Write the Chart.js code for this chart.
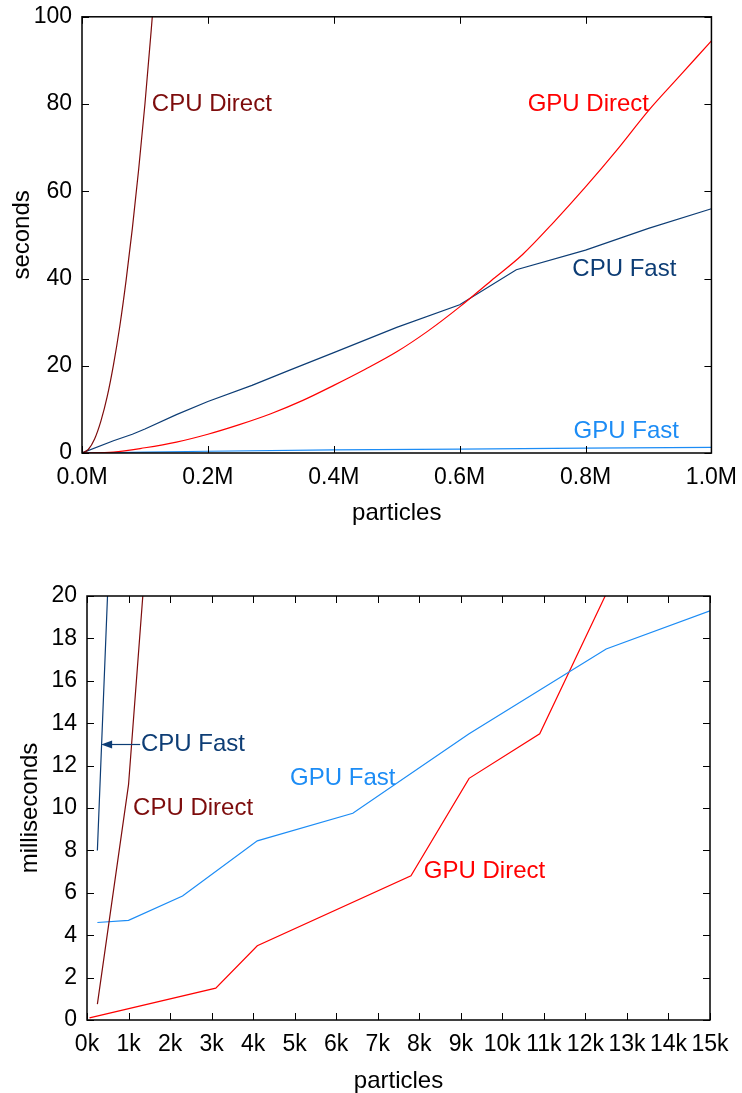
<!DOCTYPE html>
<html>
<head>
<meta charset="utf-8">
<script src="https://cdn.jsdelivr.net/npm/chart.js@4/dist/chart.umd.min.js"></script>
<style>
  html, body { margin: 0; padding: 0; background: #fff; overflow: hidden; }
  #wrapTop { position: absolute; left: 0; top: -7px; width: 748px; height: 547px; }
  #wrapBot { position: absolute; left: 0; top: 545px; width: 742px; height: 548px; }
</style>
</head>
<body>
<div id="wrapTop"><canvas id="chart-top"></canvas></div>
<div id="wrapBot"><canvas id="chart-bot"></canvas></div>
<script>
// cores
var corCpuDirect = "#7d0c0c";
var corGpuDirect = "#ff0000";
var corCpuFast = "#0d3d75";
var corGpuFast = "#1c8cf5";

// grafico de cima (segundos x milhoes de particulas)
var topCpuDirectX = [0, 10000, 20000, 30000, 40000, 50000, 60000, 70000, 80000, 90000, 100000, 110000, 120000];
var topCpuDirectY = [0, 0.8, 3.2, 7.3, 12.9, 20.2, 29, 39.5, 51.5, 65, 80, 97, 115];

var topGpuDirectX = [0, 50000, 100000, 150000, 200000, 250000, 300000, 350000, 400000, 450000, 500000,
   550000, 600000, 650000, 700000, 750000, 800000, 850000, 900000, 950000, 1000000];
var topGpuDirectY = [0, 0.2, 1.2, 2.5, 4.3, 6.5, 9, 12, 15.5, 19.2, 23.2,
   28, 33.5, 39.5, 45.5, 53, 61, 69.5, 78.5, 86.5, 94.5];

var topCpuFastX = [0, 50000, 80000, 100000, 150000, 200000, 270000, 330000, 400000, 500000, 600000, 690000, 800000, 900000, 1000000];
var topCpuFastY = [0, 2.8, 4.3, 5.5, 8.8, 11.8, 15.5, 19, 23, 28.8, 34, 42, 46.5, 51.5, 56];

var topGpuFastX = [0, 100000, 200000, 400000, 600000, 800000, 1000000];
var topGpuFastY = [0, 0.2, 0.4, 0.7, 0.9, 1.1, 1.3];

var topXTicks = [0, 200000, 400000, 600000, 800000, 1000000];
var topYTicks = [0, 20, 40, 60, 80, 100];

// grafico de baixo (milissegundos x milhares de particulas)
var botCpuFastX = [250, 500, 1000];
var botCpuFastY = [8, 20.3, 45];

var botCpuDirectX = [250, 1000, 2000];
var botCpuDirectY = [0.75, 11.1, 37];

var botGpuFastX = [250, 1000, 2300, 4100, 6400, 9200, 12500, 15000];
var botGpuFastY = [4.6, 4.7, 5.85, 8.45, 9.75, 13.5, 17.5, 19.3];

var botGpuDirectX = [60, 3100, 4100, 7800, 9200, 10900, 12500];
var botGpuDirectY = [0.1, 1.5, 3.5, 6.8, 11.4, 13.5, 20.1];

var botXTicks = [0, 1000, 2000, 3000, 4000, 5000, 6000, 7000, 8000, 9000, 10000, 11000, 12000, 13000, 14000, 15000];
var botYTicks = [0, 2, 4, 6, 8, 10, 12, 14, 16, 18, 20];

// rotulos das curvas (em coordenadas dos dados)
var topNotes = [
   { text: "CPU Direct", x: 111000, y: 80, color: corCpuDirect },
   { text: "GPU Direct", x: 708000, y: 80, color: corGpuDirect },
   { text: "CPU Fast", x: 779000, y: 42.2, color: corCpuFast },
   { text: "GPU Fast", x: 781000, y: 4.9, color: corGpuFast },
];
var botNotes = [
   { text: "CPU Fast", x: 1300, y: 13, color: corCpuFast },
   { text: "CPU Direct", x: 1110, y: 10, color: corCpuDirect },
   { text: "GPU Fast", x: 4890, y: 11.4, color: corGpuFast },
   { text: "GPU Direct", x: 8110, y: 7, color: corGpuDirect },
];
var botArrow = { x1: 1280, x2: 340, y: 13, color: corCpuFast };

var fonte = "'Liberation Sans', Arial, Helvetica, sans-serif";

function pares(xs, ys) {
   return xs.map(function (x, i) { return { x: x, y: ys[i] }; });
}

function serie(label, xs, ys, cor, curva) {
   return {
      label: label,
      data: pares(xs, ys),
      borderColor: cor,
      backgroundColor: cor,
      borderWidth: 1.2,
      pointRadius: 0,
      fill: false,
      cubicInterpolationMode: curva ? "monotone" : "default",
      tension: 0,
   };
}

// moldura com ticks para dentro nos 4 lados
const molduraPlugin = {
   id: "moldura",
   afterDatasetsDraw(chart) {
      const ctx = chart.ctx;
      const a = chart.chartArea;
      const sx = chart.scales.x;
      const sy = chart.scales.y;
      ctx.save();
      ctx.strokeStyle = "#000";
      ctx.lineWidth = 1;
      ctx.beginPath();
      sx.ticks.forEach(function (t) {
         const px = Math.round(sx.getPixelForValue(t.value)) + 0.5;
         ctx.moveTo(px, a.bottom); ctx.lineTo(px, a.bottom - 7);
         ctx.moveTo(px, a.top); ctx.lineTo(px, a.top + 7);
      });
      sy.ticks.forEach(function (t) {
         const py = Math.round(sy.getPixelForValue(t.value)) + 0.5;
         ctx.moveTo(a.left, py); ctx.lineTo(a.left + 7, py);
         ctx.moveTo(a.right, py); ctx.lineTo(a.right - 7, py);
      });
      ctx.stroke();
      ctx.lineWidth = 1.5;
      ctx.strokeRect(a.left, a.top, a.right - a.left, a.bottom - a.top);
      ctx.restore();
   },
};

// textos das curvas e a seta
const notasPlugin = {
   id: "notas",
   afterDatasetsDraw(chart, args, opts) {
      const ctx = chart.ctx;
      const sx = chart.scales.x;
      const sy = chart.scales.y;
      ctx.save();
      ctx.font = "24px " + fonte;
      ctx.textAlign = "left";
      ctx.textBaseline = "middle";
      (opts.items || []).forEach(function (n) {
         ctx.fillStyle = n.color;
         ctx.fillText(n.text, sx.getPixelForValue(n.x), sy.getPixelForValue(n.y));
      });
      if (opts.arrow) {
         const s = opts.arrow;
         const x1 = sx.getPixelForValue(s.x1);
         const x2 = sx.getPixelForValue(s.x2);
         const y = Math.round(sy.getPixelForValue(s.y)) + 0.5;
         ctx.strokeStyle = s.color;
         ctx.fillStyle = s.color;
         ctx.lineWidth = 1.2;
         ctx.beginPath();
         ctx.moveTo(x1, y); ctx.lineTo(x2 + 8, y);
         ctx.stroke();
         ctx.beginPath();
         ctx.moveTo(x2, y); ctx.lineTo(x2 + 11, y - 4); ctx.lineTo(x2 + 11, y + 4);
         ctx.closePath();
         ctx.fill();
      }
      ctx.restore();
   },
};

function eixos(xMax, xTicks, fmtX, yMax, yTicks, yTitulo, yLarg, xAlt, yTitPad, xTitPad) {
   return {
      x: {
         type: "linear",
         min: 0,
         max: xMax,
         afterBuildTicks: function (s) { s.ticks = xTicks.map(function (v) { return { value: v }; }); },
         afterFit: function (s) { s.height = xAlt; },
         grid: { display: false, drawTicks: false },
         border: { display: false },
         ticks: {
            autoSkip: false,
            maxRotation: 0,
            padding: 11,
            color: "#000",
            font: { family: fonte, size: 23 },
            callback: fmtX,
         },
         title: {
            display: true,
            text: "particles",
            color: "#000",
            font: { family: fonte, size: 24 },
            padding: xTitPad,
         },
      },
      y: {
         type: "linear",
         min: 0,
         max: yMax,
         afterBuildTicks: function (s) { s.ticks = yTicks.map(function (v) { return { value: v }; }); },
         afterFit: function (s) { s.width = yLarg; },
         grid: { display: false, drawTicks: false },
         border: { display: false },
         ticks: {
            padding: 10,
            color: "#000",
            font: { family: fonte, size: 23 },
         },
         title: {
            display: true,
            text: yTitulo,
            color: "#000",
            font: { family: fonte, size: 24 },
            padding: yTitPad,
         },
      },
   };
}

function montarGraficos() {
   const ctxTop = document.getElementById("chart-top");
   new Chart(ctxTop, {
      type: "line",
      data: {
         datasets: [
            serie("CPU Direct", topCpuDirectX, topCpuDirectY, corCpuDirect, true),
            serie("GPU Direct", topGpuDirectX, topGpuDirectY, corGpuDirect, true),
            serie("CPU Fast", topCpuFastX, topCpuFastY, corCpuFast, false),
            serie("GPU Fast", topGpuFastX, topGpuFastY, corGpuFast, false),
         ],
      },
      options: {
         responsive: true,
         maintainAspectRatio: false,
         animation: false,
         layout: { padding: { top: 16, right: 24, left: 0, bottom: 0 } },
         scales: eixos(1000000, topXTicks, function (v) { return (v / 1000000).toFixed(1) + "M"; },
            100, topYTicks, "seconds", 82, 87, { top: 8, bottom: 0 }, { top: 4, bottom: 12 }),
         plugins: {
            legend: { display: false },
            tooltip: { enabled: false },
            notas: { items: topNotes },
         },
      },
      plugins: [molduraPlugin, notasPlugin],
   });

   const ctxBot = document.getElementById("chart-bot");
   new Chart(ctxBot, {
      type: "line",
      data: {
         datasets: [
            serie("CPU Fast", botCpuFastX, botCpuFastY, corCpuFast, false),
            serie("CPU Direct", botCpuDirectX, botCpuDirectY, corCpuDirect, false),
            serie("GPU Fast", botGpuFastX, botGpuFastY, corGpuFast, false),
            serie("GPU Direct", botGpuDirectX, botGpuDirectY, corGpuDirect, false),
         ],
      },
      options: {
         responsive: true,
         maintainAspectRatio: false,
         animation: false,
         layout: { padding: { top: 51, right: 32, left: 0, bottom: 0 } },
         scales: eixos(15000, botXTicks, function (v) { return (v / 1000) + "k"; },
            20, botYTicks, "milliseconds", 87, 73, { top: 16, bottom: 0 }, { top: 4, bottom: -3 }),
         plugins: {
            legend: { display: false },
            tooltip: { enabled: false },
            notas: { items: botNotes, arrow: botArrow },
         },
      },
      plugins: [molduraPlugin, notasPlugin],
   });
}

montarGraficos();
</script>
</body>
</html>
